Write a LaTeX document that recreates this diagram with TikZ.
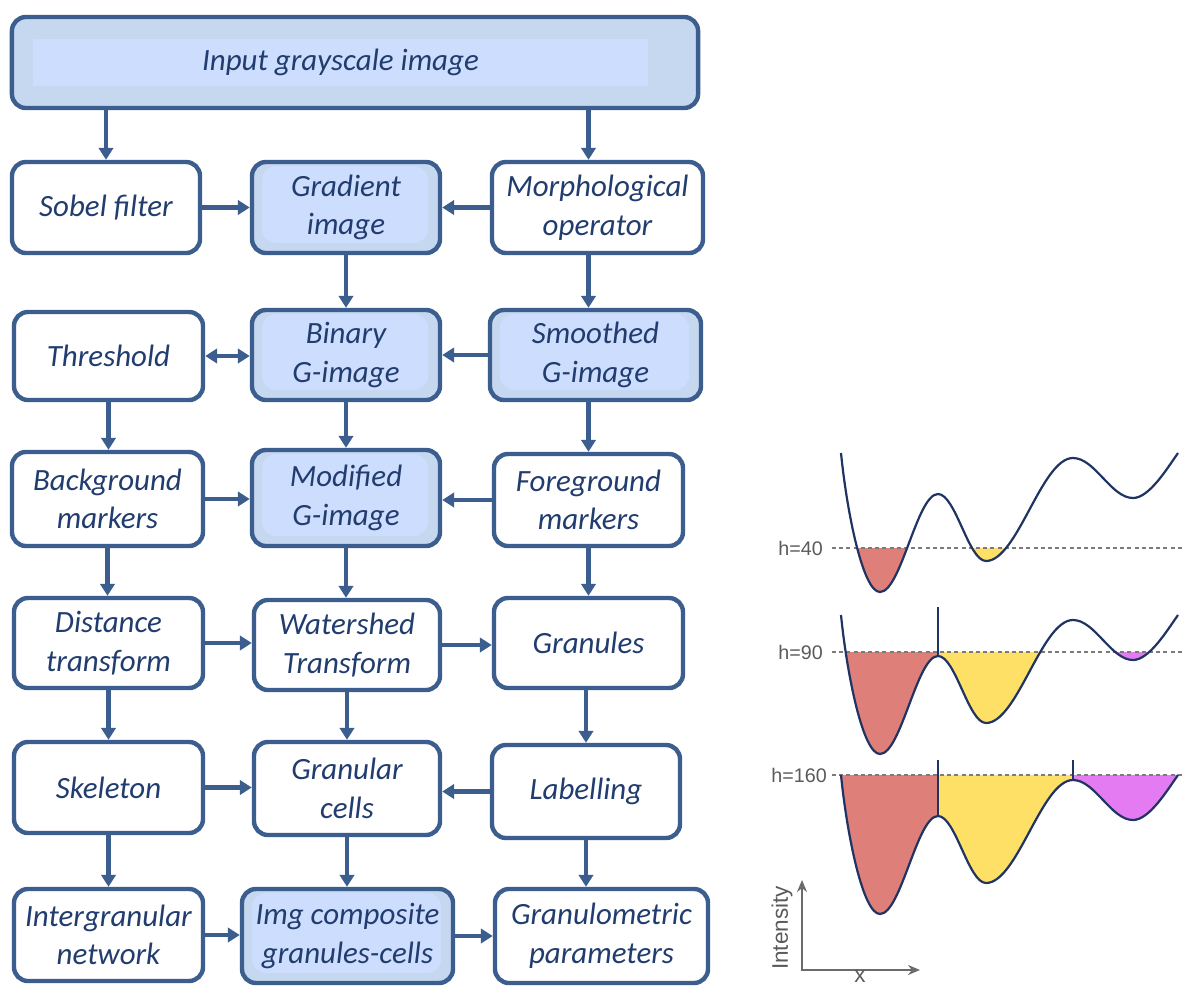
\documentclass[tikz,border=0pt]{standalone}
\usepackage{fontspec}
\setmainfont{Carlito}
\setsansfont{Liberation Sans}
\usetikzlibrary{arrows.meta}

\definecolor{boxline}{HTML}{3B5E8E}
\definecolor{boxtext}{HTML}{213C6E}
\definecolor{hlouter}{HTML}{C6D8F0}
\definecolor{hlinner}{HTML}{CDDDFD}
\definecolor{basinred}{HTML}{DE7F7A}
\definecolor{basinyellow}{HTML}{FFE066}
\definecolor{basinpink}{HTML}{E57BF3}
\definecolor{curveline}{HTML}{1F3462}
\definecolor{figgray}{HTML}{5A5A5A}

% one profile, local pixels, y up
\newcommand{\wcurve}{(0,0) .. controls (6,-60) and (22,-139) .. (39,-139)
    .. controls (60,-139) and (76,-41) .. (97,-41)
    .. controls (114.5,-41) and (127.5,-108) .. (145,-108)
    .. controls (176.5,-108) and (200.5,-5) .. (232,-5)
    .. controls (254,-5) and (270,-45) .. (292,-45)
    .. controls (308,-45) and (325.5,-16.4) .. (337,0)}
% water of one basin: colour, left x, right x, level
\newcommand{\basin}[4]{\begin{scope}\clip (#2,-#4) rectangle (#3,-150); \fill[#1] \wcurve -- (337,60) -- (0,60) -- cycle;\end{scope}}

\begin{document}
\begin{tikzpicture}[x=0.025cm,y=0.025cm,
    box/.style={draw=boxline, line width=0.11cm, rounded corners=0.35cm, fill=white, text=boxtext,
        font=\fontsize{22}{27.5}\selectfont\itshape, align=center, inner sep=0pt},
    hlbox/.style={box, fill=hlouter, path picture={\fill[hlinner]
        ([xshift=0.25cm,yshift=0.25cm]path picture bounding box.south west) rectangle
        ([xshift=-0.3cm,yshift=-0.1cm]path picture bounding box.north east);}},
    dims/.style 2 args={minimum width=#1cm, minimum height=#2cm},
    arr/.style={draw=boxline, line width=0.11cm, -{Triangle[length=0.3cm,width=0.36cm]}},
    wline/.style={draw=curveline, line width=0.055cm},
    hline/.style={draw=figgray!80, line width=0.04cm, dash pattern=on 0.1cm off 0.08cm},
    hlabel/.style={text=figgray, font=\fontsize{14}{16}\selectfont\sffamily, anchor=east, inner sep=0pt},
    axis/.style={draw=figgray!90, line width=0.05cm, {Stealth[length=0.3cm,width=0.25cm]}-{Stealth[length=0.3cm,width=0.25cm]}}]
    \useasboundingbox (0,0) rectangle (1185,-987);

    % flow chart
    \node[box, fill=hlouter, dims={17.15}{2.275}] (input) at (355,-62.5) {};
    \node[fill=hlinner, text=boxtext, font=\fontsize{22}{27.5}\selectfont\itshape,
        minimum width=15.375cm, minimum height=1.175cm, inner sep=0pt] (inputtext) at (340.5,-62.5) {Input grayscale image};

    \node[box, dims={4.7}{2.275}] (sobel) at (106,-207.5) {Sobel filter};
    \node[hlbox, dims={4.7}{2.275}] (gradient) at (346,-207.5) {Gradient\\image};
    \node[box, dims={5.275}{2.275}] (morph) at (597.5,-207.5) {Morphological\\operator};

    \node[box, dims={4.725}{2.2}] (threshold) at (108.5,-356) {Threshold};
    \node[hlbox, dims={4.7}{2.25}] (binary) at (346,-355) {Binary\\G-image};
    \node[hlbox, dims={5.275}{2.25}] (smoothed) at (595.5,-355) {Smoothed\\G-image};

    \node[box, dims={4.775}{2.35}] (background) at (107.5,-499) {Background\\markers};
    \node[hlbox, dims={4.7}{2.4}] (modified) at (346,-498) {Modified\\G-image};
    \node[box, dims={4.725}{2.3}] (foreground) at (588.5,-500) {Foreground\\markers};

    \node[box, dims={4.725}{2.25}] (distance) at (108.5,-643) {Distance\\transform};
    \node[box, dims={4.65}{2.25}] (watershed) at (347,-645) {Watershed\\Transform};
    \node[box, dims={4.725}{2.25}] (granules) at (588.5,-643) {Granules};

    \node[box, dims={4.725}{2.275}] (skeleton) at (108.5,-787.5) {Skeleton};
    \node[box, dims={4.65}{2.325}] (granular) at (347,-788.5) {Granular\\cells};
    \node[box, dims={4.7}{2.325}] (labelling) at (586,-791.5) {Labelling};

    \node[box, dims={4.725}{2.3}] (intergranular) at (108.5,-935) {Intergranular\\network};
    \node[hlbox, dims={5.275}{2.35}] (imgcomp) at (347.5,-936) {Img composite\\granules-cells};
    \node[box, dims={5.325}{2.35}] (granulometric) at (601.5,-936) {Granulometric\\parameters};

    % down
    \draw[arr] (input.south -| sobel) -- (sobel.north);
    \draw[arr] (input.south -| foreground) -- (morph.north -| foreground);
    \draw[arr] (gradient.south) -- (binary.north);
    \draw[arr] (morph.south -| foreground) -- (smoothed.north -| foreground);
    \draw[arr] (threshold.south) -- (background.north -| threshold);
    \draw[arr] (binary.south) -- (modified.north);
    \draw[arr] (smoothed.south -| foreground) -- (foreground.north);
    \draw[arr] (background.south) -- (distance.north -| background);
    \draw[arr] (modified.south) -- (watershed.north -| modified);
    \draw[arr] (foreground.south) -- (granules.north);
    \draw[arr] (distance.south) -- (skeleton.north);
    \draw[arr] (watershed.south) -- (granular.north);
    \draw[arr] (granules.south -| labelling) -- (labelling.north);
    \draw[arr] (skeleton.south) -- (intergranular.north);
    \draw[arr] (granular.south) -- (imgcomp.north -| granular);
    \draw[arr] (labelling.south) -- (granulometric.north -| labelling);

    % across
    \draw[arr] (sobel.east) -- (sobel.east -| gradient.west);
    \draw[arr] (morph.west) -- (morph.west -| gradient.east);
    \draw[arr, {Triangle[length=0.3cm,width=0.36cm]}-{Triangle[length=0.3cm,width=0.36cm]}] (threshold.east) -- (threshold.east -| binary.west);
    \draw[arr] (smoothed.west) -- (smoothed.west -| binary.east);
    \draw[arr] (background.east) -- (background.east -| modified.west);
    \draw[arr] (foreground.west) -- (foreground.west -| modified.east);
    \draw[arr] (distance.east) -- (distance.east -| watershed.west);
    \draw[arr] (watershed.east) -- (watershed.east -| granules.west);
    \draw[arr] (skeleton.east) -- (skeleton.east -| granular.west);
    \draw[arr] (labelling.west) -- (labelling.west -| granular.east);
    \draw[arr] (intergranular.east) -- (intergranular.east -| imgcomp.west);
    \draw[arr] (imgcomp.east) -- (imgcomp.east -| granulometric.west);

    % flooding, h=40
    \begin{scope}[shift={(841,-453)}]
        \basin{basinred}{0}{97}{95}
        \basin{basinyellow}{97}{232}{95}
        \draw[hline] (-9,-95) -- (344,-95);
        \draw[wline] \wcurve;
    \end{scope}
    \node[hlabel] (h40) at (823,-548) {h=40};

    % h=90
    \begin{scope}[shift={(841,-615)}]
        \basin{basinred}{0}{97}{37}
        \basin{basinyellow}{97}{232}{37}
        \basin{basinpink}{232}{337}{37}
        \draw[hline] (-9,-37) -- (344,-37);
        \draw[wline] \wcurve;
        \draw[wline] (97,8) -- (97,-41);
    \end{scope}
    \node[hlabel] (h90) at (823,-652) {h=90};

    % h=160
    \begin{scope}[shift={(841,-775)}]
        \basin{basinred}{0}{97}{0}
        \basin{basinyellow}{97}{232}{0}
        \basin{basinpink}{232}{337}{0}
        \draw[hline] (-9,0) -- (344,0);
        \draw[wline] \wcurve;
        \draw[wline] (97,15) -- (97,-42);
        \draw[wline] (232,15) -- (232,-6);
    \end{scope}
    \node[hlabel] (h160) at (827,-775) {h=160};

    % axes
    \coordinate (origin) at (802,-970);
    \coordinate (ytip) at (802,-880);
    \coordinate (xtip) at (920,-970);
    \draw[axis] (ytip) -- (origin) -- (xtip);
    \node[text=figgray, font=\fontsize{16}{18}\selectfont\sffamily, rotate=90] (intensity) at (782,-928) {Intensity};
    \node[text=figgray, font=\fontsize{16}{18}\selectfont\sffamily, inner sep=0pt] (xlabel) at (860,-977) {x};
\end{tikzpicture}
\end{document}
